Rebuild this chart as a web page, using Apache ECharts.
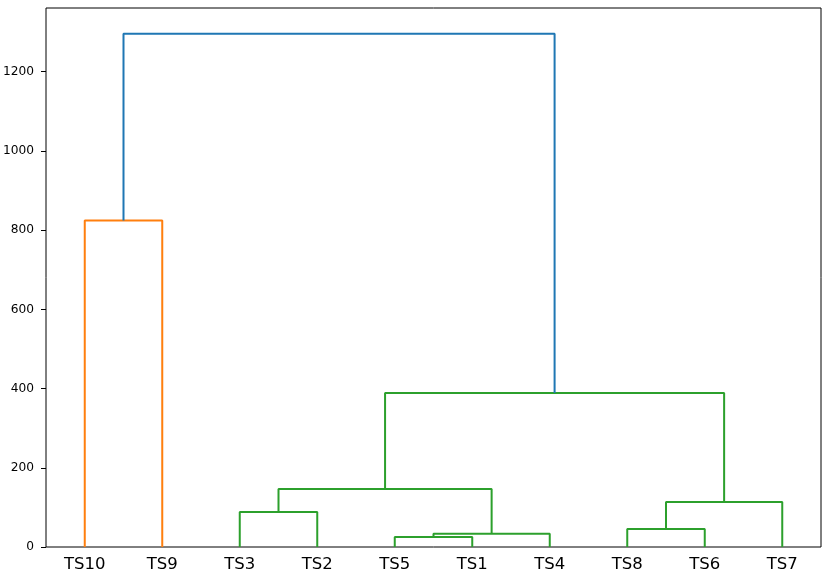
<!DOCTYPE html>
<html>
<head>
<meta charset="utf-8">
<script src="https://cdn.jsdelivr.net/npm/echarts@6/dist/echarts.min.js"></script>
<style>html,body{margin:0;padding:0;background:#fff}#c{width:829px;height:577px}</style>
</head>
<body>
<div id="c"></div>
<script>
// Leaf labels in dendrogram order
const leafLabels = ['TS10','TS9','TS3','TS2','TS5','TS1','TS4','TS8','TS6','TS7'];
// Merges (scipy-like): node ids 0..9 are leaves, 10.. are clusters in order
const mergeLeft   = [0, 2, 4, 12, 11, 7, 15, 14, 10];
const mergeRight  = [1, 3, 5, 6, 13, 8, 9, 16, 17];
const mergeHeight = [824, 88.5, 25.3, 33.6, 146.6, 45.5, 113.7, 389, 1296];
const mergeColor  = ['#ff7f0e','#2ca02c','#2ca02c','#2ca02c','#2ca02c','#2ca02c','#2ca02c','#2ca02c','#1f77b4'];
const yTicks = [0, 200, 400, 600, 800, 1000, 1200];

const nLeaves = leafLabels.length;
const nodeX = [], nodeH = [];
for (let i = 0; i < nLeaves; i++) { nodeX.push(5 + 10 * i); nodeH.push(0); }
const series = [];
mergeLeft.forEach((l, k) => {
  const r = mergeRight[k], h = mergeHeight[k];
  series.push({
    type: 'line', symbol: 'none', animation: false, silent: true,
    lineStyle: { color: mergeColor[k], width: 2 },
    data: [[nodeX[l], nodeH[l]], [nodeX[l], h], [nodeX[r], h], [nodeX[r], nodeH[r]]]
  });
  nodeX.push((nodeX[l] + nodeX[r]) / 2);
  nodeH.push(h);
});
const xTickVals = leafLabels.map((_, i) => 5 + 10 * i);
const yMax = Math.max(...mergeHeight) * 1.05;

const chart = echarts.init(document.getElementById('c'));
chart.setOption({
  animation: false,
  grid: { left: 46, right: 8, top: 8, bottom: 30, containLabel: false, outerBoundsMode: 'none',
          show: true, borderColor: '#000', borderWidth: 1, backgroundColor: 'transparent' },
  xAxis: {
    type: 'value', min: 0, max: 100,
    axisLine: { show: false }, splitLine: { show: false },
    axisTick: { show: false },
    axisLabel: {
      customValues: xTickVals, color: '#000', fontSize: 16.5, margin: 9,
      fontFamily: 'DejaVu Sans',
      formatter: v => leafLabels[Math.round((v - 5) / 10)]
    }
  },
  yAxis: {
    type: 'value', min: 0, max: yMax,
    axisLine: { show: false }, splitLine: { show: false },
    axisTick: { show: true, customValues: yTicks, length: 5, lineStyle: { color: '#000', width: 1 } },
    axisLabel: { customValues: yTicks, color: '#000', fontSize: 12.2, margin: 12, fontFamily: 'DejaVu Sans',
                 formatter: v => String(v) }
  },
  series: series
});
</script>
</body>
</html>
